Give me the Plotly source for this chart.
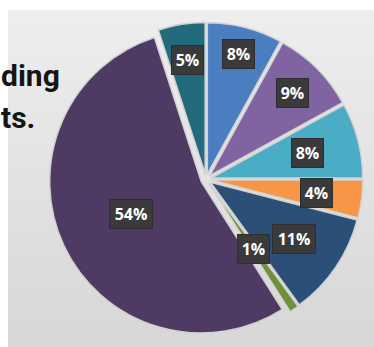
import math
import plotly.graph_objects as go

# Budget shares, clockwise from 12 o'clock
shares = [8, 9, 8, 4, 11, 1, 54, 5]
share_labels = [f"{v}%" for v in shares]
slice_colors = ["#4a7ec0", "#8064a2", "#4bacc6", "#f79646",
                "#2c4f78", "#6f8f38", "#4e3a63", "#226b7c"]

# Heading fragments at the left edge
heading_lines = ["ding", "ts."]

# Canvas / pie geometry (pixels)
W, H = 374, 347
CX, CY = 206.0, 179.3
R = 151.5
PULL = 0.035
HALF = R * (1 + PULL)
# radial placement of each value box, as a fraction of the radius
label_frac = [0.82, 0.775, 0.655, 0.70, 0.67, 0.52, 0.51, 0.76]

fig = go.Figure()

# grey backdrop panel with a soft vertical gradient
fig.add_trace(go.Scatter(
    x=[8, W, W, 8, 8], y=[10, 10, H, H, 10],
    mode="lines", line=dict(width=0), fill="toself",
    fillgradient=dict(type="vertical",
                      colorscale=[[0, "#d7d7d7"], [1, "#eeeeee"]]),
    hoverinfo="skip", showlegend=False,
))

fig.add_trace(go.Pie(
    values=shares,
    sort=False,
    direction="clockwise",
    rotation=0,
    pull=PULL,
    marker=dict(colors=slice_colors, line=dict(color="#d2d2d2", width=1.5)),
    textinfo="none",
    hoverinfo="skip",
    showlegend=False,
    domain=dict(x=[(CX - HALF) / W, (CX + HALF) / W],
                y=[1 - (CY + HALF) / H, 1 - (CY - HALF) / H]),
))

# value boxes placed along each slice's bisector
total = sum(shares)
start = 0.0
for v, txt, frac in zip(shares, share_labels, label_frac):
    mid = (start + v / 2) / total * 2 * math.pi
    start += v
    dist = R * PULL + frac * R
    lx = CX + dist * math.sin(mid)
    ly = CY - dist * math.cos(mid)
    fig.add_annotation(
        x=lx, y=ly, xref="x", yref="y", text=txt, showarrow=False,
        font=dict(family="Open Sans", size=16, color="white", weight="bold"),
        bgcolor="#3a3a3a", bordercolor="#2e2e2e", borderwidth=1, borderpad=3,
        width=25 if len(txt) == 2 else 36,
        xanchor="center", yanchor="middle",
    )

heading_font = dict(family="Roboto", size=30, color="#151515", weight="bold")
fig.add_annotation(x=0, y=75.5, xref="x", yref="y", text=heading_lines[0],
                   showarrow=False, xanchor="left", yanchor="middle",
                   borderpad=0, font=heading_font)
fig.add_annotation(x=0, y=117.5, xref="x", yref="y", text=heading_lines[1],
                   showarrow=False, xanchor="left", yanchor="middle",
                   borderpad=0, font=heading_font)

fig.update_layout(
    width=W, height=H,
    margin=dict(l=0, r=0, t=0, b=0),
    paper_bgcolor="white", plot_bgcolor="white",
    xaxis=dict(range=[0, W], visible=False, domain=[0, 1], fixedrange=True),
    yaxis=dict(range=[H, 0], visible=False, domain=[0, 1], fixedrange=True),
)

fig.write_html("out.html")
